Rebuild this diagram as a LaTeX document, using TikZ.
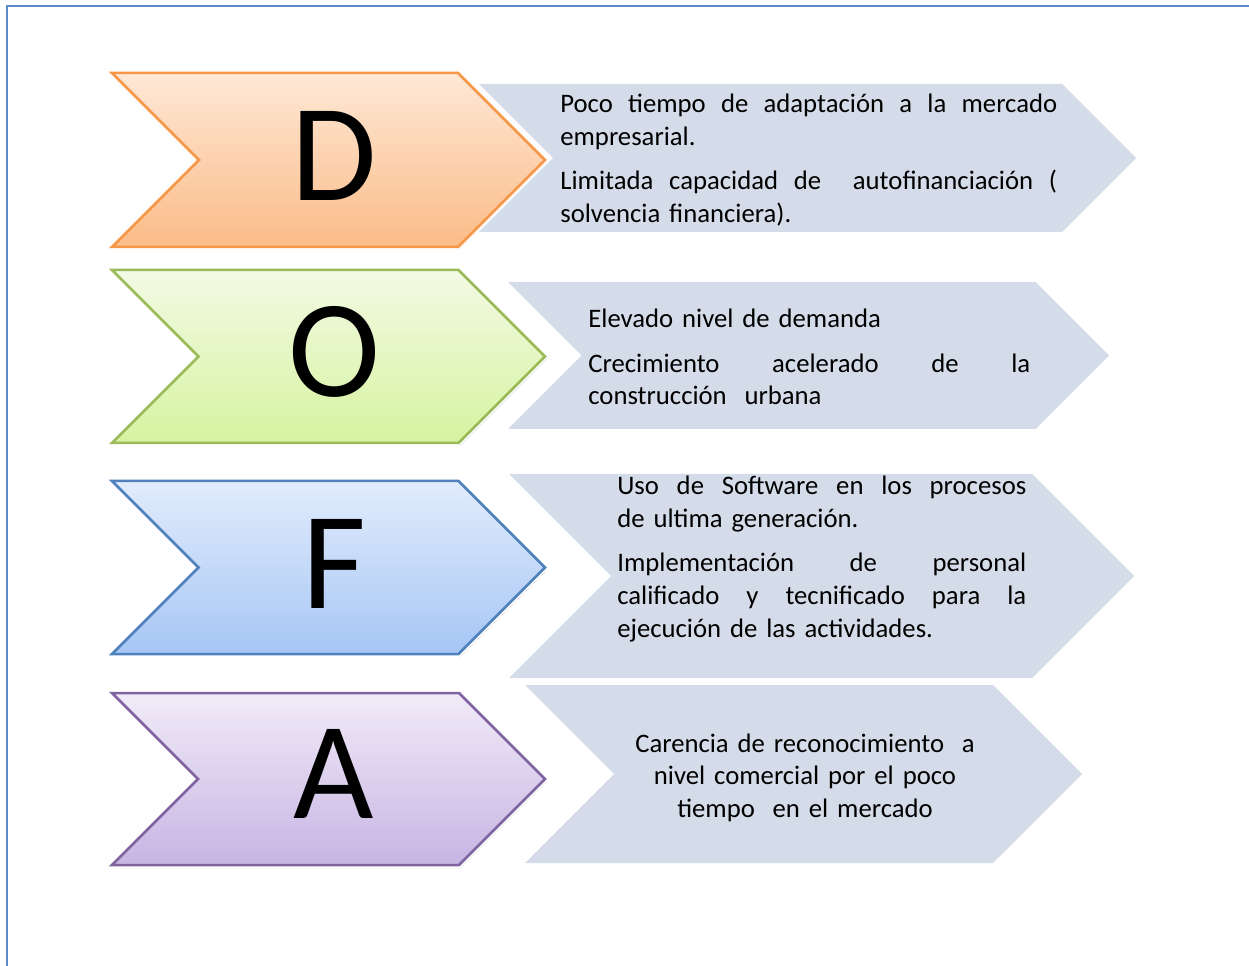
\documentclass[tikz,border=0pt]{standalone}
\usepackage{fontspec}
\setmainfont{Carlito}
\usepackage{xcolor}
\usetikzlibrary{calc,shadows,positioning}
\definecolor{dfFrame}{RGB}{91,139,201}
\definecolor{dfGray}{RGB}{213,220,233}
\definecolor{dfOrLine}{RGB}{247,150,70}
\definecolor{dfOrTop}{RGB}{254,232,214}
\definecolor{dfOrBot}{RGB}{251,188,136}
\definecolor{dfGrLine}{RGB}{155,187,89}
\definecolor{dfGrTop}{RGB}{243,250,228}
\definecolor{dfGrBot}{RGB}{214,243,160}
\definecolor{dfBlLine}{RGB}{79,129,189}
\definecolor{dfBlTop}{RGB}{226,236,252}
\definecolor{dfBlBot}{RGB}{166,198,245}
\definecolor{dfPuLine}{RGB}{128,100,162}
\definecolor{dfPuTop}{RGB}{241,235,248}
\definecolor{dfPuBot}{RGB}{199,181,227}
% chevron: style, left x, tip x, top y, bottom y
\newcommand{\dofachev}[5]{%
  \path[#1] (#2,#4) -- ({#3-(#5-#4)/2},#4) -- (#3,{(#4+#5)/2})
    -- ({#3-(#5-#4)/2},#5) -- (#2,#5) -- ({#2+(#5-#4)/2},{(#4+#5)/2}) -- cycle;
}
% justified line of a given width
\newcommand{\jline}[2]{\makebox[#1][s]{\spaceskip=0.23em plus 1fil\relax #2}}
\newcommand{\parsk}{6.5pt}

\begin{document}
\begin{tikzpicture}[x=0.02cm,y=-0.02cm,
  letter/.style={inner sep=0pt,anchor=base,font=\fontsize{79}{80}\selectfont},
  dofatext/.style={inner sep=0pt,anchor=base west,align=left,
    font=\fontsize{15.2}{18.6}\selectfont},
  halo/.style={draw=white,line width=0.12cm,
    drop shadow={shadow xshift=0.03cm,shadow yshift=-0.06cm,opacity=0.3,fill=black!60}},
  colchev/.style args={#1/#2/#3}{draw=#1,line width=0.05cm,top color=#2,bottom color=#3}]
  \useasboundingbox (0,0) rectangle (1249,966);
  \draw[dfFrame,line width=0.05cm] (7,966) -- (7,6) -- (1249,6);

  % grey boxes
  \dofachev{fill=dfGray}{479}{1136}{84}{232}
  \dofachev{fill=dfGray}{508}{1109}{282}{429}
  \dofachev{fill=dfGray}{509}{1134}{474}{678}
  \dofachev{fill=dfGray}{525}{1082}{685}{863}

  % coloured letters
  \dofachev{halo}{112}{545}{73}{247}
  \dofachev{colchev=dfOrLine/dfOrTop/dfOrBot}{112}{545}{73}{247}
  \dofachev{halo}{112}{545}{270}{443}
  \dofachev{colchev=dfGrLine/dfGrTop/dfGrBot}{112}{545}{270}{443}
  \dofachev{halo}{112}{545}{481}{654}
  \dofachev{colchev=dfBlLine/dfBlTop/dfBlBot}{112}{545}{481}{654}
  \dofachev{halo}{112}{545}{693}{865}
  \dofachev{colchev=dfPuLine/dfPuTop/dfPuBot}{112}{545}{693}{865}

  \node[letter] (letD) at (334,201) {D};
  \node[letter] (letO) at (334,397) {O};
  \node[letter] (letF) at (334,608) {F};
  \node[letter] (letA) at (334,818) {A};

  \node[dofatext,text width=9.94cm] (txtD) at (560,113) {%
    \jline{9.94cm}{Poco tiempo de adaptación a la mercado}\\
    empresarial.\\[\parsk]
    \jline{9.94cm}{Limitada capacidad de\ \ autofinanciación (}\\
    solvencia financiera).};
  \node[dofatext,text width=8.84cm] (txtO) at (588,328) {%
    Elevado nivel de demanda\\[\parsk]
    \jline{8.84cm}{Crecimiento acelerado de la}\\
    construcción\ \ urbana};
  \node[dofatext,text width=8.18cm] (txtF) at (617,495) {%
    \jline{8.18cm}{Uso de Software en los procesos}\\
    de ultima generación.\\[\parsk]
    \jline{8.18cm}{Implementación de personal}\\
    \jline{8.18cm}{calificado y tecnificado para la}\\
    ejecución de las actividades.};
  \node[dofatext,text width=8cm,anchor=base,align=center] (txtA) at (805,752) {%
    Carencia de reconocimiento\ \ a\\
    nivel comercial por el poco\\
    tiempo\ \ en el mercado};
\end{tikzpicture}
\end{document}
